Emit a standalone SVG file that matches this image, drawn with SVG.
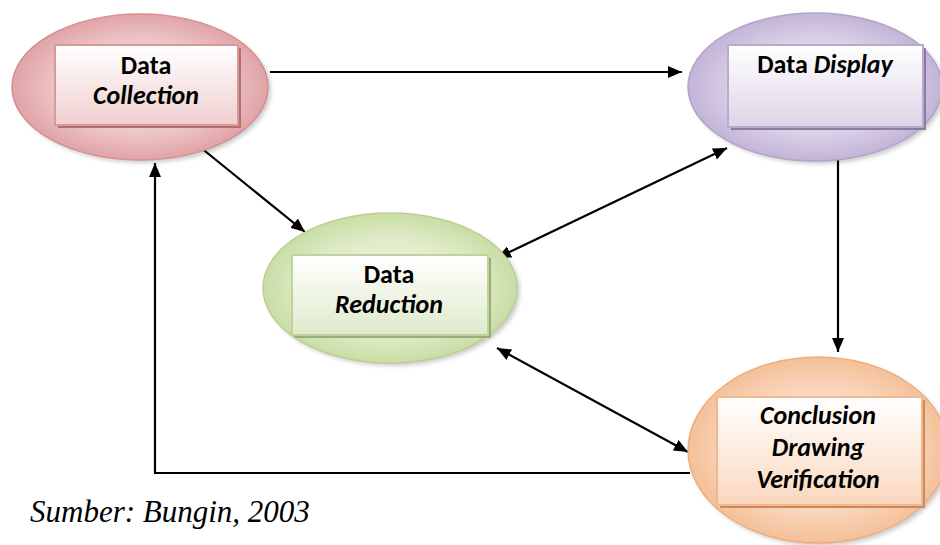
<svg xmlns="http://www.w3.org/2000/svg" width="940" height="545" viewBox="0 0 940 545">
  <defs>
    <radialGradient id="gRed" cx="50%" cy="50%" r="55%">
      <stop offset="0" stop-color="#f7e3e3"/>
      <stop offset="0.6" stop-color="#edc4c5"/>
      <stop offset="1" stop-color="#dc9a9d"/>
    </radialGradient>
    <radialGradient id="gPurple" cx="50%" cy="50%" r="55%">
      <stop offset="0" stop-color="#eeeaf4"/>
      <stop offset="0.6" stop-color="#d9cfe6"/>
      <stop offset="1" stop-color="#bcacd2"/>
    </radialGradient>
    <radialGradient id="gGreen" cx="50%" cy="50%" r="55%">
      <stop offset="0" stop-color="#f2f7e8"/>
      <stop offset="0.6" stop-color="#dfebc7"/>
      <stop offset="1" stop-color="#c3d99c"/>
    </radialGradient>
    <radialGradient id="gOrange" cx="50%" cy="50%" r="55%">
      <stop offset="0" stop-color="#fdeee4"/>
      <stop offset="0.6" stop-color="#fad6bc"/>
      <stop offset="1" stop-color="#f2ba8e"/>
    </radialGradient>
    <linearGradient id="bRed" x1="0" y1="0" x2="0" y2="1">
      <stop offset="0" stop-color="#ffffff"/>
      <stop offset="1" stop-color="#f0cfd0"/>
    </linearGradient>
    <linearGradient id="bPurple" x1="0" y1="0" x2="0" y2="1">
      <stop offset="0" stop-color="#ffffff"/>
      <stop offset="1" stop-color="#ddd4e8"/>
    </linearGradient>
    <linearGradient id="bGreen" x1="0" y1="0" x2="0" y2="1">
      <stop offset="0" stop-color="#ffffff"/>
      <stop offset="1" stop-color="#dfeacb"/>
    </linearGradient>
    <linearGradient id="bOrange" x1="0" y1="0" x2="0" y2="1">
      <stop offset="0" stop-color="#ffffff"/>
      <stop offset="1" stop-color="#fad7bd"/>
    </linearGradient>
    <marker id="arrow" viewBox="0 0 14 12" refX="14" refY="6" markerWidth="14" markerHeight="12" markerUnits="userSpaceOnUse" orient="auto-start-reverse">
      <path d="M0,0 L14,6 L0,12 Z" fill="#000"/>
    </marker>
    <filter id="soft" x="-10%" y="-10%" width="120%" height="120%">
      <feGaussianBlur stdDeviation="2"/>
    </filter>
  </defs>
  <style>
    .lbl { font-family: "Carlito", "Lato", "Open Sans", sans-serif; font-weight: bold; font-size: 26px; fill: #000; text-anchor: middle; }
    .it { font-style: italic; }
    .edge { fill: none; stroke: #000; stroke-width: 2.2; }
    .shadow { fill: #000; opacity: 0.2; filter: url(#soft); }
    .caption { font-family: "Liberation Serif", "Times New Roman", serif; font-style: italic; font-size: 31px; fill: #000; }
  </style>

  <rect width="940" height="545" fill="#ffffff"/>

  <!-- connectors -->
  <g id="connectors">
    <line class="edge" x1="270" y1="72" x2="682" y2="72" marker-end="url(#arrow)"/>
    <line class="edge" x1="200" y1="147" x2="305" y2="232" marker-end="url(#arrow)"/>
    <line class="edge" x1="727" y1="148" x2="497" y2="258" marker-start="url(#arrow)" marker-end="url(#arrow)"/>
    <line class="edge" x1="838" y1="158" x2="838" y2="352" marker-end="url(#arrow)"/>
    <line class="edge" x1="497" y1="348" x2="688" y2="452" marker-start="url(#arrow)" marker-end="url(#arrow)"/>
    <polyline class="edge" points="690,473 155,473 155,163" marker-end="url(#arrow)"/>
  </g>

  <!-- Data Collection -->
  <g id="node-collection">
    <ellipse class="shadow" cx="143" cy="90" rx="128" ry="73"/>
    <ellipse cx="140" cy="87" rx="128" ry="73" fill="url(#gRed)" stroke="#d68d90" stroke-width="1.5"/>
    <rect x="58" y="48" width="183" height="80" fill="#b07072"/>
    <rect x="55" y="45" width="183" height="80" fill="url(#bRed)" stroke="#d8999b" stroke-width="2"/>
    <text class="lbl" x="146" y="74">Data</text>
    <text class="lbl it" x="146" y="104">Collection</text>
  </g>

  <!-- Data Display -->
  <g id="node-display">
    <ellipse class="shadow" cx="818" cy="90" rx="127" ry="74"/>
    <ellipse cx="815" cy="87" rx="127" ry="74" fill="url(#gPurple)" stroke="#b5a4ca" stroke-width="1.5"/>
    <rect x="731" y="48" width="195" height="82" fill="#8c7ca4"/>
    <rect x="728" y="45" width="195" height="82" fill="url(#bPurple)" stroke="#b9abcf" stroke-width="2"/>
    <text class="lbl" x="825" y="73">Data <tspan class="it">Display</tspan></text>
  </g>

  <!-- Data Reduction -->
  <g id="node-reduction">
    <ellipse class="shadow" cx="393" cy="291" rx="127" ry="75"/>
    <ellipse cx="390" cy="288" rx="127" ry="75" fill="url(#gGreen)" stroke="#b9d190" stroke-width="1.5"/>
    <rect x="295" y="258" width="196" height="80" fill="#98ad78"/>
    <rect x="292" y="255" width="196" height="80" fill="url(#bGreen)" stroke="#bfd39c" stroke-width="2"/>
    <text class="lbl" x="389" y="283">Data</text>
    <text class="lbl it" x="389" y="313">Reduction</text>
  </g>

  <!-- Conclusion Drawing Verification -->
  <g id="node-conclusion">
    <ellipse class="shadow" cx="821" cy="453" rx="130" ry="93"/>
    <ellipse cx="818" cy="450" rx="130" ry="93" fill="url(#gOrange)" stroke="#eeae7e" stroke-width="1.5"/>
    <rect x="720" y="400" width="205" height="108" fill="#cc8a5c"/>
    <rect x="717" y="397" width="205" height="108" fill="url(#bOrange)" stroke="#f0b88e" stroke-width="2"/>
    <text class="lbl it" x="818" y="424">Conclusion</text>
    <text class="lbl it" x="818" y="456">Drawing</text>
    <text class="lbl it" x="818" y="488">Verification</text>
  </g>

  <text class="caption" x="30" y="522">Sumber: Bungin, 2003</text>
</svg>
